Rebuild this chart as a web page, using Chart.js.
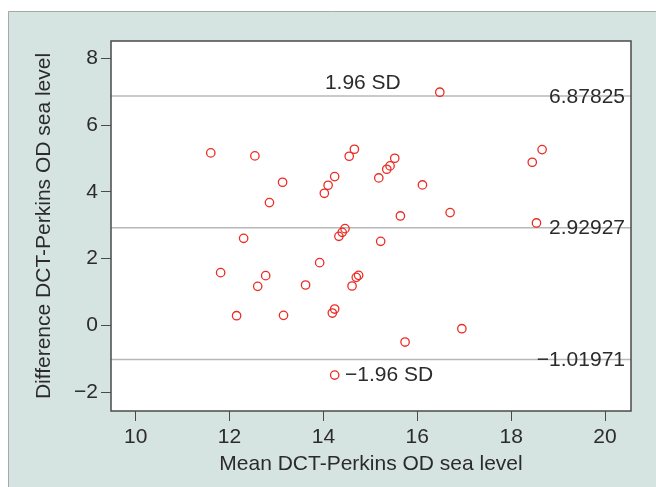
<!DOCTYPE html>
<html>
<head>
<meta charset="utf-8">
<script src="https://cdn.jsdelivr.net/npm/chart.js@4"></script>
<style>
  html, body { margin: 0; padding: 0; background: #ffffff; }
  #wrap { width: 656px; height: 487px; }
</style>
</head>
<body>
<div id="wrap"><canvas id="baChart" width="656" height="487"></canvas></div>
<script>
// Bland-Altman: DCT vs Perkins OD, sea level
const meanVals = [
    11.60, 12.54, 13.13, 12.85, 14.02, 14.10, 14.24, 14.55, 14.66, 15.18,
    15.35, 15.42, 15.52, 16.11, 16.48, 18.45, 18.66, 15.64, 16.70, 18.54,
    14.46, 14.40, 14.33, 15.22, 12.30, 13.92, 11.81, 12.77, 12.60, 13.62,
    14.75, 14.70, 14.61, 12.15, 13.15, 14.19, 14.24, 16.95, 15.74, 14.24
];
const diffVals = [
    5.17, 5.08, 4.29, 3.68, 3.96, 4.20, 4.46, 5.07, 5.28, 4.42,
    4.68, 4.78, 5.01, 4.21, 6.99, 4.89, 5.27, 3.28, 3.38, 3.07,
    2.90, 2.79, 2.67, 2.52, 2.61, 1.88, 1.58, 1.49, 1.17, 1.21,
    1.50, 1.44, 1.18, 0.29, 0.30, 0.37, 0.49, -0.10, -0.50, -1.49
];
const refLevels = [6.87825, 2.92927, -1.01971];
const refLabels = ['6.87825', '2.92927', '\u22121.01971'];
const xTicks = [10, 12, 14, 16, 18, 20];
const yTicks = [-2, 0, 2, 4, 6, 8];
const xRange = [9.474, 20.554];
const yRange = [-2.567, 8.525];

const inkColor = '#2b2b2b';
const refColor = '#b8b8b8';
const dotColor = '#ec2b24';
const baseFont = { family: '"Liberation Sans", Arial, sans-serif', size: 21 };

const minus = (v) => String(v).replace('-', '\u2212');

const points = meanVals.map((m, i) => ({ x: m, y: diffVals[i] }));
const refSets = refLevels.map((lv) => ({
    type: 'line',
    data: [{ x: xRange[0], y: lv }, { x: xRange[1], y: lv }],
    borderColor: refColor,
    borderWidth: 1.5,
    pointRadius: 0,
    order: 2
}));

const framePlugin = {
    id: 'frame',
    beforeDraw(chart) {
        const { ctx, chartArea: a, width, height } = chart;
        ctx.save();
        ctx.fillStyle = '#ffffff';
        ctx.fillRect(0, 0, width, height);
        ctx.fillStyle = '#d6e4e1';
        ctx.fillRect(8, 11, width - 8, height - 11);
        ctx.strokeStyle = '#a4a9a8';
        ctx.lineWidth = 1;
        ctx.beginPath();
        ctx.moveTo(8.5, height);
        ctx.lineTo(8.5, 11.5);
        ctx.lineTo(width, 11.5);
        ctx.stroke();
        ctx.fillStyle = '#ffffff';
        ctx.fillRect(a.left, a.top, a.right - a.left, a.bottom - a.top);
        ctx.restore();
    },
    afterDatasetsDraw(chart) {
        const { ctx, chartArea: a, scales: { x, y } } = chart;
        ctx.save();
        ctx.font = '21px "Liberation Sans", Arial, sans-serif';
        ctx.fillStyle = inkColor;
        ctx.textBaseline = 'middle';

        // value labels at the right end of each line
        ctx.textAlign = 'right';
        refLevels.forEach((lv, i) => {
            ctx.fillText(refLabels[i], a.right - 6, y.getPixelForValue(lv) + 1);
        });

        // SD labels
        ctx.textAlign = 'center';
        ctx.fillText('1.96 SD', x.getPixelForValue(14.84), y.getPixelForValue(refLevels[0]) - 13);
        ctx.textAlign = 'left';
        ctx.fillText('\u22121.96 SD', x.getPixelForValue(14.46), y.getPixelForValue(-1.49));

        // plot box
        ctx.strokeStyle = '#4a4a4a';
        ctx.lineWidth = 1.5;
        ctx.strokeRect(a.left, a.top, a.right - a.left, a.bottom - a.top);
        ctx.restore();
    }
};

new Chart(document.getElementById('baChart'), {
    type: 'scatter',
    data: {
        datasets: [
            {
                label: 'Difference',
                data: points,
                pointStyle: 'circle',
                pointRadius: 4.2,
                pointBorderWidth: 1.3,
                borderColor: dotColor,
                backgroundColor: 'rgba(0,0,0,0)',
                order: 1
            },
            ...refSets
        ]
    },
    options: {
        responsive: false,
        animation: false,
        layout: { padding: { top: 41, right: 25, left: 0, bottom: 0 } },
        plugins: {
            legend: { display: false },
            tooltip: { enabled: false }
        },
        scales: {
            x: {
                type: 'linear',
                min: xRange[0],
                max: xRange[1],
                afterBuildTicks: (s) => { s.ticks = xTicks.map((v) => ({ value: v })); },
                afterFit: (s) => { s.height = 76; },
                border: { display: false },
                grid: { drawOnChartArea: false, tickLength: 10, color: '#4a4a4a', lineWidth: 1 },
                ticks: { color: inkColor, font: baseFont, padding: 4, maxRotation: 0, callback: minus },
                title: {
                    display: true,
                    text: 'Mean DCT-Perkins OD sea level',
                    color: inkColor,
                    font: baseFont,
                    padding: { top: 0, bottom: 10 }
                }
            },
            y: {
                type: 'linear',
                min: yRange[0],
                max: yRange[1],
                afterBuildTicks: (s) => { s.ticks = yTicks.map((v) => ({ value: v })); },
                afterFit: (s) => { s.width = 111; },
                border: { display: false },
                grid: { drawOnChartArea: false, tickLength: 10, color: '#4a4a4a', lineWidth: 1 },
                ticks: { color: inkColor, font: baseFont, padding: 3, callback: minus },
                title: {
                    display: true,
                    text: 'Difference DCT-Perkins OD sea level',
                    color: inkColor,
                    font: baseFont,
                    padding: { top: 32, bottom: 0 }
                }
            }
        }
    },
    plugins: [framePlugin]
});
</script>
</body>
</html>
